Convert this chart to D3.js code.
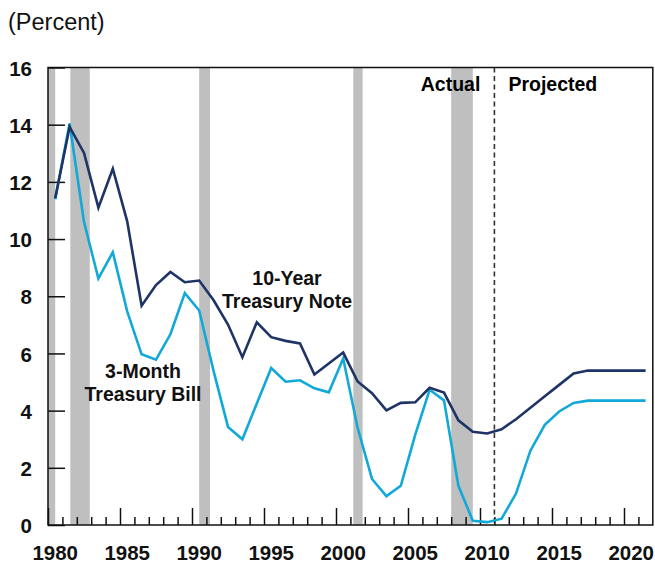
<!DOCTYPE html>
<html>
<head>
<meta charset="utf-8">
<script src="https://cdn.jsdelivr.net/npm/d3@7"></script>
<style>
  body { margin: 0; background: #fff; }
  text { font-family: "Liberation Sans", Arial, sans-serif; }
</style>
</head>
<body>
<div id="chart"></div>
<script>
const WIDTH = 655;
const HEIGHT = 562;
const MARGIN = { TOP: 67.5, BOTTOM: 37, LEFT: 48, RIGHT: 2.2 };

// annual values, plotted at mid-year
const years = d3.range(1980, 2022);
const note10y = [11.43, 13.92, 13.01, 11.10, 12.46, 10.62, 7.67, 8.39, 8.85, 8.49,
                 8.55, 7.86, 7.01, 5.87, 7.09, 6.57, 6.44, 6.35, 5.26, 5.65,
                 6.03, 5.02, 4.61, 4.01, 4.27, 4.29, 4.80, 4.63, 3.66, 3.26,
                 3.20, 3.35, 3.70, 4.10, 4.50, 4.90, 5.30, 5.40, 5.40, 5.40,
                 5.40, 5.40];
const bill3m = [11.39, 14.04, 10.60, 8.62, 9.54, 7.47, 5.97, 5.78, 6.67, 8.11,
                7.50, 5.38, 3.43, 3.00, 4.25, 5.49, 5.01, 5.06, 4.78, 4.64,
                5.82, 3.40, 1.61, 1.01, 1.37, 3.15, 4.73, 4.36, 1.37, 0.15,
                0.10, 0.22, 1.10, 2.60, 3.50, 3.97, 4.27, 4.35, 4.35, 4.35,
                4.35, 4.35];

const recessions = [[1980.0, 1980.5], [1981.55, 1982.9], [1990.5, 1991.25],
                    [2001.2, 2001.85], [2008.0, 2009.5]];
const projStart = 2011;
const yTicks = [0, 2, 4, 6, 8, 10, 12, 14, 16];
const xLabels = [1980, 1985, 1990, 1995, 2000, 2005, 2010, 2015, 2020];

const w = WIDTH - MARGIN.LEFT - MARGIN.RIGHT;
const h = HEIGHT - MARGIN.TOP - MARGIN.BOTTOM;

const svg = d3.select('#chart').append('svg')
    .attr('width', WIDTH)
    .attr('height', HEIGHT);

svg.append('text')
    .attr('x', 8).attr('y', 30)
    .style('font-size', '23.5px')
    .style('fill', '#111')
    .text('(Percent)');

const g = svg.append('g')
    .attr('transform', `translate(${MARGIN.LEFT}, ${MARGIN.TOP})`);

const x = d3.scaleLinear().domain([1980, 2022]).range([0, w]);
const y = d3.scaleLinear().domain([0, 16]).range([h, 0]);

// recession shading
g.selectAll('.rec')
    .data(recessions)
    .enter().append('rect')
    .attr('class', 'rec')
    .attr('x', d => x(d[0]))
    .attr('width', d => x(d[1]) - x(d[0]))
    .attr('y', 0)
    .attr('height', h)
    .attr('fill', '#bfbfbf');

// actual / projected divider
g.append('line')
    .attr('x1', x(projStart)).attr('x2', x(projStart))
    .attr('y1', 0).attr('y2', h)
    .attr('stroke', '#333')
    .attr('stroke-width', 1.6)
    .attr('stroke-dasharray', '5,3.5');

g.append('text')
    .attr('x', x(projStart) - 14).attr('y', 23)
    .attr('text-anchor', 'end')
    .style('font-size', '19.5px').style('font-weight', 'bold')
    .text('Actual');
g.append('text')
    .attr('x', x(projStart) + 14).attr('y', 23)
    .style('font-size', '19.5px').style('font-weight', 'bold')
    .text('Projected');

// y axis ticks pointing inward
const yAxis = g.append('g')
    .call(d3.axisLeft(y).tickValues(yTicks).tickSize(-17).tickFormat(''));
yAxis.select('.domain').remove();
yAxis.selectAll('.tick line').attr('stroke', '#111').attr('stroke-width', 1.5);

g.selectAll('.ylab')
    .data(yTicks)
    .enter().append('text')
    .attr('class', 'ylab')
    .attr('x', -16)
    .attr('y', d => y(d))
    .attr('dy', '0.4em')
    .attr('text-anchor', 'end')
    .style('font-size', '20.5px').style('font-weight', 'bold')
    .style('fill', '#111')
    .text(d => d);

// x axis: yearly ticks, taller every five years
const xAxis = g.append('g')
    .attr('transform', `translate(0, ${h})`)
    .call(d3.axisBottom(x).tickValues(years).tickSize(-8).tickFormat(''));
xAxis.select('.domain').remove();
xAxis.selectAll('.tick line')
    .attr('y2', d => d % 5 === 0 ? -17 : -8)
    .attr('stroke', '#111').attr('stroke-width', 1.5);

g.selectAll('.xlab')
    .data(xLabels)
    .enter().append('text')
    .attr('class', 'xlab')
    .attr('x', d => x(d + 0.5))
    .attr('y', h + 34.5)
    .attr('text-anchor', 'middle')
    .style('font-size', '20.5px').style('font-weight', 'bold')
    .style('fill', '#111')
    .text(d => d);

// series
const line = d3.line()
    .x((d, i) => x(years[i] + 0.5))
    .y(d => y(d));

g.append('path')
    .datum(bill3m)
    .attr('fill', 'none')
    .attr('stroke', '#12a8d8')
    .attr('stroke-width', 2.6)
    .attr('d', line);

g.append('path')
    .datum(note10y)
    .attr('fill', 'none')
    .attr('stroke', '#1e3466')
    .attr('stroke-width', 2.6)
    .attr('d', line);

// frame
g.append('rect')
    .attr('x', 0).attr('y', 0)
    .attr('width', x(2022) - x(1980)).attr('height', h)
    .attr('fill', 'none')
    .attr('stroke', '#111')
    .attr('stroke-width', 1.5);

// series labels
const labels = [
  { lines: ['10-Year', 'Treasury Note'], cx: 287, top: 285 },
  { lines: ['3-Month', 'Treasury Bill'], cx: 143, top: 378 }
];
labels.forEach(l => {
  const t = svg.append('text')
      .attr('text-anchor', 'middle')
      .style('font-size', '19.5px').style('font-weight', 'bold')
      .style('fill', '#111');
  l.lines.forEach((s, i) => {
    t.append('tspan')
      .attr('x', l.cx)
      .attr('y', l.top + i * 23)
      .text(s);
  });
});
</script>
</body>
</html>
